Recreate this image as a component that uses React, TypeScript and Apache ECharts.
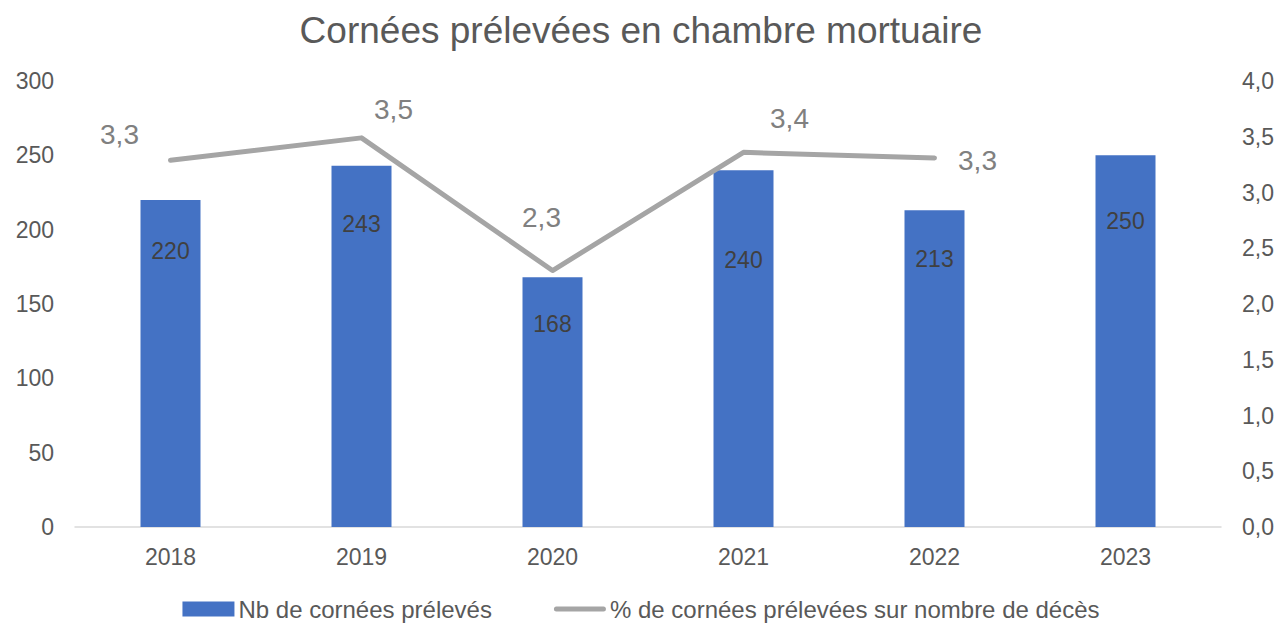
import React, { useEffect, useRef } from "react";
import * as echarts from "echarts";

const years = ["2018", "2019", "2020", "2021", "2022", "2023"];
const nbCornees = [220, 243, 168, 240, 213, 250];
const pctCornees = [3.29, 3.49, 2.3, 3.36, 3.31, null];
const leftTicks = { min: 0, max: 300, interval: 50 };
const rightTicks = { min: 0, max: 4, interval: 0.5 };

// label placement tweaks (styling, not data)
const barLabelDy = [35, 42, 30, 73, 32, 49];
const lineLabelOffsets: [number, number][] = [
  [-51, -26],
  [32, -28],
  [-11, -53],
  [46, -34],
  [43, 3],
  [0, 0],
];

const fmt = (v: number) => v.toFixed(1).replace(".", ",");
const FONT = "'Liberation Sans', Arial, sans-serif";
const LINE_ICON =
  "path://M2.5,0 L49.5,0 A2.5,2.5 0 0 1 49.5,5 L2.5,5 A2.5,2.5 0 0 1 2.5,0 Z";

export default function App() {
  const ref = useRef<HTMLDivElement>(null);
  useEffect(() => {
    if (!ref.current) return;
    const chart = echarts.init(ref.current, null, { renderer: "svg" });
    chart.setOption({
      animation: false,
      textStyle: { fontFamily: FONT },
      title: {
        text: "Cornées prélevées en chambre mortuaire",
        left: "center",
        top: 7,
        textStyle: { fontFamily: FONT, fontSize: 37, fontWeight: "normal", color: "#595959" },
      },
      grid: { left: 75, right: 61, top: 81, bottom: 96, containLabel: false },
      legend: {
        top: 592,
        left: "center",
        itemWidth: 52,
        itemHeight: 15,
        itemGap: 62,
        symbolKeepAspect: true,
        textStyle: { fontFamily: FONT, fontSize: 24, color: "#595959", padding: [0, 0, 0, -1] },
        data: [
          { name: "Nb de cornées prélevés", icon: "rect" },
          { name: "% de cornées prélevées sur nombre de décès", icon: LINE_ICON },
        ],
      },
      xAxis: {
        type: "category",
        data: years,
        axisLine: { lineStyle: { color: "#d9d9d9", width: 1.5 } },
        axisTick: { show: false },
        axisLabel: { fontFamily: FONT, fontSize: 23, color: "#595959", margin: 18 },
      },
      yAxis: [
        {
          type: "value",
          ...leftTicks,
          splitLine: { show: false },
          axisLine: { show: false },
          axisTick: { show: false },
          axisLabel: { fontFamily: FONT, fontSize: 23, color: "#595959", margin: 21 },
        },
        {
          type: "value",
          ...rightTicks,
          position: "right",
          splitLine: { show: false },
          axisLine: { show: false },
          axisTick: { show: false },
          axisLabel: {
            fontFamily: FONT,
            fontSize: 23,
            color: "#595959",
            margin: 21,
            formatter: (v: number) => fmt(v),
          },
        },
      ],
      series: [
        {
          name: "Nb de cornées prélevés",
          type: "bar",
          barWidth: 60,
          itemStyle: { color: "#4472C4" },
          data: nbCornees.map((v, i) => ({
            value: v,
            label: { offset: [0, barLabelDy[i]] },
          })),
          label: {
            show: true,
            position: "insideTop",
            fontFamily: FONT,
            fontSize: 23,
            color: "#404040",
          },
          z: 2,
        },
        {
          name: "% de cornées prélevées sur nombre de décès",
          type: "line",
          yAxisIndex: 1,
          symbol: "circle",
          symbolSize: 1,
          lineStyle: { color: "#A5A5A5", width: 5, cap: "round", join: "round" },
          itemStyle: { color: "#A5A5A5" },
          data: pctCornees.map((v, i) => ({
            value: v,
            label: { offset: lineLabelOffsets[i] },
          })),
          label: {
            show: true,
            position: "inside",
            fontFamily: FONT,
            fontSize: 28,
            color: "#808080",
            formatter: (p: any) => (p.value == null ? "" : fmt(p.value)),
          },
          z: 3,
        },
      ],
    });
    return () => chart.dispose();
  }, []);
  return (
    <div
      ref={ref}
      style={{ position: "fixed", left: 0, top: 0, width: 1282, height: 623, background: "#fff" }}
    />
  );
}
